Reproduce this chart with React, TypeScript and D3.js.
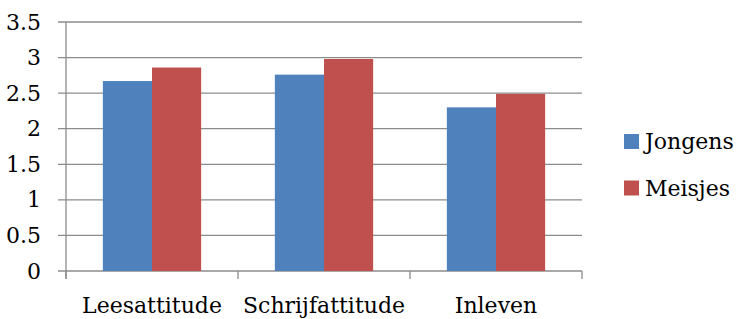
import React from "react";
import * as d3 from "d3";

const categories = ["Leesattitude", "Schrijfattitude", "Inleven"];
const seriesNames = ["Jongens", "Meisjes"];
const jongens = [2.67, 2.76, 2.3];
const meisjes = [2.86, 2.98, 2.49];
const yTicks = [0, 0.5, 1, 1.5, 2, 2.5, 3, 3.5];
const colors = ["#4F81BD", "#C0504D"];

export default function App() {
  const W = 736, H = 319;
  const left = 66, right = 582, top = 22, bottom = 271;
  const font = "'DejaVu Serif', serif";
  const x = d3.scaleBand<string>().domain(categories).range([left, right]).paddingInner(0).paddingOuter(0);
  const bw = x.bandwidth() / 3.5;
  const y = d3.scaleLinear().domain([0, 3.5]).range([bottom, top]);
  const series = [jongens, meisjes];
  const grid = "#8c8c8c";
  return (
    <svg width={W} height={H} style={{ position: "absolute", left: 0, top: 0, background: "#fff" }}>
      {yTicks.map((t) => (
        <g key={t}>
          <line x1={left - 8} x2={right} y1={y(t)} y2={y(t)} stroke={grid} strokeWidth={1.3} />
          <text x={41} y={y(t)} textAnchor="end" dominantBaseline="central" fontFamily={font} fontSize={22} fill="#000">
            {String(t)}
          </text>
        </g>
      ))}
      <line x1={left} x2={left} y1={top} y2={bottom + 8} stroke={grid} strokeWidth={1.3} />
      {[...categories.map((c) => x(c) as number), right].map((px, i) => (
        <line key={i} x1={px} x2={px} y1={bottom} y2={bottom + 8} stroke={grid} strokeWidth={1.3} />
      ))}
      {series.map((vals, si) =>
        categories.map((c, ci) => {
          const bx = (x(c) as number) + bw * 0.75 + si * bw;
          return (
            <rect key={si + "-" + ci} x={bx} y={y(vals[ci])} width={bw} height={bottom - y(vals[ci])} fill={colors[si]} />
          );
        })
      )}
      {categories.map((c) => (
        <text key={c} x={(x(c) as number) + x.bandwidth() / 2} y={313} textAnchor="middle" fontFamily={font} fontSize={22} fill="#000">
          {c}
        </text>
      ))}
      {seriesNames.map((n, i) => (
        <g key={n}>
          <rect x={624} y={134 + i * 46.5} width={15} height={15} fill={colors[i]} />
          <text x={645} y={149 + i * 46.5} fontFamily={font} fontSize={22} fill="#000">
            {n}
          </text>
        </g>
      ))}
    </svg>
  );
}
